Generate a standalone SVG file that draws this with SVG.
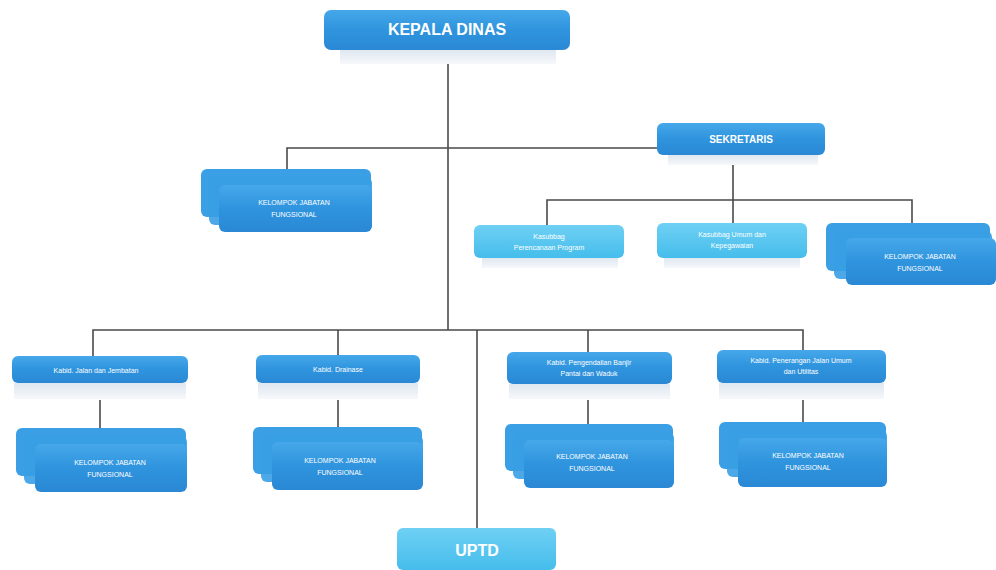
<svg xmlns="http://www.w3.org/2000/svg" width="996" height="570" viewBox="0 0 996 570">
<defs>
<linearGradient id="gb" x1="0" y1="0" x2="0" y2="1">
<stop offset="0" stop-color="#46a8ea"/><stop offset="0.5" stop-color="#2f94de"/><stop offset="1" stop-color="#2a88d4"/>
</linearGradient>
<linearGradient id="gc" x1="0" y1="0" x2="0" y2="1">
<stop offset="0" stop-color="#6fd0f4"/><stop offset="1" stop-color="#45bdeb"/>
</linearGradient>
<linearGradient id="gs" x1="0" y1="0" x2="0" y2="1">
<stop offset="0" stop-color="#dfe7f0"/><stop offset="1" stop-color="#f6f8fb"/>
</linearGradient>
</defs>
<style>
.b{fill:url(#gb);}
.b2{fill:#3a9fe4;}
.c{fill:url(#gc);}
.s{fill:url(#gs);}
.t{fill:#fff;font-family:"Liberation Sans",Arial,sans-serif;font-weight:bold;text-anchor:middle;}
.sm{font-size:7px;font-weight:normal;}
.ln{stroke:#4a4a4a;stroke-width:1.6;fill:none;}
</style>
<rect width="996" height="570" fill="#ffffff"/>
<g id="connectors">
<path class="ln" d="M448 50 V330"/>
<path class="ln" d="M287 170 V148 H657"/>
<path class="ln" d="M733 155 V200 M547 225 V200 H912 V223 M733 200 V223"/>
<path class="ln" d="M93 356 V330 H803 V350 M338 330 V355 M588 330 V352 M477 330 V528"/>
<path class="ln" d="M100 400 V428 M338 400 V427 M588 400 V424 M803 400 V422"/>
</g>
<g id="kepala">
<rect class="s" x="340" y="50" width="216" height="14"/>
<rect class="b" x="324" y="10" width="246" height="40" rx="7"/>
<text class="t" x="447" y="35" font-size="16">KEPALA DINAS</text>
</g>
<g id="sekretaris">
<rect class="s" x="668" y="155" width="150" height="10"/>
<rect class="b" x="657" y="123" width="168" height="32" rx="6"/>
<text class="t" x="741" y="143" font-size="10">SEKRETARIS</text>
</g>
<g id="kjf-top">
<rect class="b2" x="201" y="169" width="170" height="48" rx="6"/>
<rect class="b2" x="209" y="177" width="163" height="48" rx="6" opacity="0.9"/>
<rect class="b" x="219" y="185" width="153" height="47" rx="6"/>
<text class="t sm" x="294" y="205">KELOMPOK JABATAN</text>
<text class="t sm" x="294" y="217">FUNGSIONAL</text>
</g>
<g id="kasubbag-program">
<rect class="s" x="482" y="258" width="136" height="10"/>
<rect class="c" x="474" y="225" width="150" height="33" rx="6"/>
<text class="t sm" x="549" y="239">Kasubbag</text>
<text class="t sm" x="549" y="250">Perencanaan Program</text>
</g>
<g id="kasubbag-umum">
<rect class="s" x="664" y="258" width="136" height="10"/>
<rect class="c" x="657" y="223" width="150" height="35" rx="6"/>
<text class="t sm" x="732" y="237">Kasubbag Umum dan</text>
<text class="t sm" x="732" y="248">Kepegawaian</text>
</g>
<g id="kjf-sek">
<rect class="b2" x="826" y="223" width="164" height="48" rx="6"/>
<rect class="b2" x="834" y="231" width="158" height="48" rx="6" opacity="0.9"/>
<rect class="b" x="846" y="238" width="150" height="47" rx="6"/>
<text class="t sm" x="920" y="259">KELOMPOK JABATAN</text>
<text class="t sm" x="920" y="271">FUNGSIONAL</text>
</g>
<g id="kabid-jalan">
<rect class="s" x="14" y="383" width="172" height="16"/>
<rect class="b" x="12" y="356" width="176" height="27" rx="6"/>
<text class="t sm" x="96" y="373">Kabid. Jalan dan Jembatan</text>
</g>
<g id="kabid-drainase">
<rect class="s" x="258" y="383" width="160" height="16"/>
<rect class="b" x="256" y="355" width="164" height="28" rx="6"/>
<text class="t sm" x="338" y="372">Kabid. Drainase</text>
</g>
<g id="kabid-banjir">
<rect class="s" x="509" y="384" width="161" height="15"/>
<rect class="b" x="507" y="352" width="165" height="32" rx="6"/>
<text class="t sm" x="589" y="365">Kabid. Pengendalian Banjir</text>
<text class="t sm" x="589" y="376">Pantai dan Waduk</text>
</g>
<g id="kabid-pju">
<rect class="s" x="719" y="383" width="165" height="16"/>
<rect class="b" x="717" y="350" width="169" height="33" rx="6"/>
<text class="t sm" x="801" y="363">Kabid. Penerangan Jalan Umum</text>
<text class="t sm" x="801" y="374">dan Utilitas</text>
</g>
<g id="kjf-1">
<rect class="b2" x="16" y="428" width="170" height="48" rx="6"/>
<rect class="b2" x="24" y="436" width="163" height="48" rx="6" opacity="0.9"/>
<rect class="b" x="35" y="444" width="152" height="48" rx="6"/>
<text class="t sm" x="110" y="465">KELOMPOK JABATAN</text>
<text class="t sm" x="110" y="477">FUNGSIONAL</text>
</g>
<g id="kjf-2">
<rect class="b2" x="253" y="427" width="169" height="47" rx="6"/>
<rect class="b2" x="261" y="435" width="162" height="47" rx="6" opacity="0.9"/>
<rect class="b" x="272" y="442" width="151" height="48" rx="6"/>
<text class="t sm" x="340" y="463">KELOMPOK JABATAN</text>
<text class="t sm" x="340" y="475">FUNGSIONAL</text>
</g>
<g id="kjf-3">
<rect class="b2" x="505" y="424" width="168" height="47" rx="6"/>
<rect class="b2" x="513" y="432" width="161" height="47" rx="6" opacity="0.9"/>
<rect class="b" x="524" y="440" width="150" height="48" rx="6"/>
<text class="t sm" x="592" y="459">KELOMPOK JABATAN</text>
<text class="t sm" x="592" y="471">FUNGSIONAL</text>
</g>
<g id="kjf-4">
<rect class="b2" x="719" y="422" width="167" height="47" rx="6"/>
<rect class="b2" x="727" y="430" width="160" height="47" rx="6" opacity="0.9"/>
<rect class="b" x="738" y="438" width="149" height="49" rx="6"/>
<text class="t sm" x="808" y="458">KELOMPOK JABATAN</text>
<text class="t sm" x="808" y="470">FUNGSIONAL</text>
</g>
<g id="uptd">
<rect class="c" x="397" y="528" width="159" height="42" rx="6"/>
<text class="t" x="477" y="556" font-size="16">UPTD</text>
</g>
</svg>
